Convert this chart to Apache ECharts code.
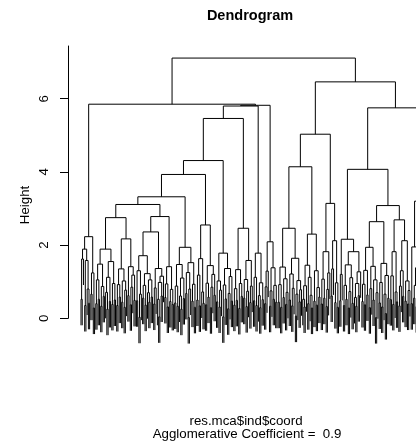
<!DOCTYPE html>
<html><head><meta charset="utf-8">
<script src="https://cdn.jsdelivr.net/npm/echarts@6/dist/echarts.min.js"></script>
<style>html,body{margin:0;padding:0;background:#fff}#c{width:416px;height:441px}</style>
</head><body><div id="c"></div>
<script>
// Merge height between each pair of adjacent leaves (leaf order of the dendrogram), per cluster
const a1  = [0.52, 1.62, 1.89, 0.35, 1.58, 0.80, 0.41];
const a2  = [0.66, 1.24, 0.28];
const b1  = [0.40, 1.05, 0.52, 1.48, 0.33, 0.87, 0.60, 1.89, 0.71, 0.25, 1.12, 0.46, 1.55, 0.38, 0.95, 0.50];
const b2  = [0.35, 0.92, 0.58, 1.35, 0.44, 1.02, 0.30, 0.77, 2.17, 0.62, 1.41, 0.37, 0.85, 1.18, 0.49];
const b3  = [0.48, 1.30, 0.03, 0.66, 1.71, 0.55, 0.90, 0.36, 1.22, 0.70, 0.44, 1.05, 0.58, 2.36, 0.39, 0.83, 1.36, 0.52, 0.04, 0.98, 0.61, 1.15];
const b4  = [0.57, 0.94, 0.31, 1.41, 0.46, 0.79, 0.38];
const b5  = [0.42, 0.88, 0.33, 1.47, 0.61, 0.25, 1.10, 0.54, 1.94, 0.68, 1.25, 0.02, 0.80, 1.52, 0.47, 0.93, 0.30];
const b6  = [0.50, 1.18, 0.34, 1.63, 0.72, 0.41, 2.55, 0.37, 0.96, 0.58, 1.44, 0.29, 0.85, 1.20, 0.63];
const b7  = [0.45, 1.02, 0.31, 0.77, 1.78, 0.04, 0.91, 0.53, 1.36, 0.26, 0.68, 1.14, 0.47];
const b8  = [0.36, 0.81, 0.49, 1.33, 0.27, 0.95, 0.60, 2.46, 0.55, 1.06, 0.32, 0.74, 1.58, 0.43, 0.88];
const b9  = [0.48, 1.12, 0.35, 1.78, 0.62, 0.29, 0.97, 0.51];
const b10 = [0.40, 0.86, 1.29, 2.09, 0.33, 0.75, 1.38, 0.52, 0.90, 0.44];
const b11 = [0.44, 0.92, 0.30, 1.40, 0.57, 1.08, 0.38, 0.71, 2.46, 0.50, 1.21, 0.34, 0.82, 1.64, 0.06, 0.66, 1.03, 0.45, 0.78];
const b12 = [0.52, 0.31, 0.89, 1.45, 0.40, 1.12, 0.63, 0.28, 2.30, 0.47, 1.30, 0.36, 0.84, 0.58];
const b13 = [0.39, 1.07, 0.55, 1.82, 0.32, 0.79, 1.24];
const b14 = [0.61, 1.35, 2.12, 0.43, 0.97, 0.30];
const b15 = [0.48, 1.20, 2.16, 0.35, 0.90, 0.52, 1.46, 0.28, 0.73, 1.11, 0.41, 1.82, 0.57, 0.33, 0.95, 0.62, 1.27];
const b16 = [0.46, 0.93, 0.37, 1.31, 0.64, 1.94, 0.29, 0.81, 1.42, 0.50, 1.05, 0.02, 0.70];
const b17 = [0.42, 0.98, 0.31, 1.50, 0.66, 0.13, 1.17, 0.55];
const b18 = [0.51, 1.16, 0.38, 1.82, 0.72, 0.45];
const b19 = [0.34, 0.88, 1.30, 0.60, 2.12, 0.47, 1.02, 0.39, 0.76];
const b20 = [0.40, 1.95, 0.55, 0.90, 0.32, 1.38, 0.63, 3.20, 0.48, 1.10, 0.36, 0.85, 1.52, 0.29, 0.70, 2.40, 0.44, 0.93, 0.58, 1.26, 0.35, 0.81, 1.60, 0.52];
// Merge heights joining neighbouring clusters
const joins = [2.23, 5.85, 2.75, 3.11, 2.78, 3.32, 3.93, 4.31, 5.46, 5.80, 5.82, 7.11, 4.14, 5.03, 3.14, 6.46, 4.07, 2.64, 3.08, 2.69, 5.75];
const clusters = [a1, a2, b1, b2, b3, b4, b5, b6, b7, b8, b9, b10, b11, b12, b13, b14, b15, b16, b17, b18, b19, b20];
const yTicks = [0, 2, 4, 6];
const hangFrac = 0.1;

const gaps = [];
clusters.forEach((c, i) => { gaps.push(...c); if (i < joins.length) gaps.push(joins[i]); });
const n = gaps.length + 1;
const hang = hangFrac * Math.max(...gaps);
const segs = [];
function build(lo, hi) {
  if (lo === hi) return { x: lo + 1, h: null };
  let k = lo;
  for (let i = lo; i < hi; i++) if (gaps[i] > gaps[k]) k = i;
  const h = gaps[k];
  const L = build(lo, k), R = build(k + 1, hi);
  segs.push([L.x, h, R.x, h]);
  segs.push([L.x, h, L.x, L.h === null ? h - hang : L.h]);
  segs.push([R.x, h, R.x, R.h === null ? h - hang : R.h]);
  return { x: (L.x + R.x) / 2, h: h };
}
build(0, n - 1);

const gridLeft = 68, gridWidth = 400, leafStep = 1.232, firstLeafPx = 81;
const xMin = 1 - (firstLeafPx - gridLeft) / leafStep;
const xMax = xMin + gridWidth / leafStep;
const FONT = '"Liberation Sans", Arial, Helvetica, sans-serif';

const chart = echarts.init(document.getElementById('c'), null, { renderer: 'canvas' });
chart.setOption({
  animation: false,
  backgroundColor: '#fff',
  grid: { left: gridLeft, top: 46, width: gridWidth, height: 272.3, containLabel: false, outerBoundsMode: 'none' },
  xAxis: { type: 'value', min: xMin, max: xMax, show: false },
  yAxis: {
    type: 'value', min: 0, max: 7.44, interval: 2,
    axisLine: { show: true, onZero: false, lineStyle: { color: '#000', width: 1 } },
    axisTick: { show: true, length: 8, customValues: yTicks, lineStyle: { color: '#000' } },
    axisLabel: { customValues: yTicks, rotate: 90, margin: 17, color: '#000', fontSize: 13.3, fontFamily: FONT },
    splitLine: { show: false }
  },
  graphic: [
    { type: 'text', x: 250, y: 15.5, style: { text: 'Dendrogram', font: 'bold 14.5px ' + FONT, fill: '#000', align: 'center', verticalAlign: 'middle' } },
    { type: 'text', x: 25, y: 205, rotation: Math.PI / 2, style: { text: 'Height', font: '13.3px ' + FONT, fill: '#000', align: 'center', verticalAlign: 'middle' } },
    { type: 'text', x: 246, y: 421, style: { text: 'res.mca$ind$coord', font: '13.3px ' + FONT, fill: '#000', align: 'center', verticalAlign: 'middle' } },
    { type: 'text', x: 247, y: 434, style: { text: 'Agglomerative Coefficient =  0.9', font: '13.3px ' + FONT, fill: '#000', align: 'center', verticalAlign: 'middle' } }
  ],
  series: [{
    type: 'custom',
    silent: true,
    encode: { x: [0, 2], y: [1, 3] },
    data: segs,
    renderItem: function (params, api) {
      const p1 = api.coord([api.value(0), api.value(1)]);
      const p2 = api.coord([api.value(2), api.value(3)]);
      return { type: 'line', shape: { x1: p1[0], y1: p1[1], x2: p2[0], y2: p2[1] }, style: { stroke: '#000', lineWidth: 1 } };
    }
  }]
});
</script></body></html>
